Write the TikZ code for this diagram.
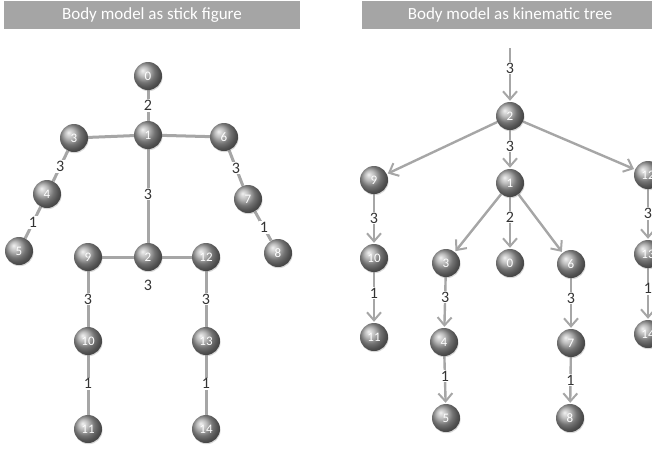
\documentclass[tikz,border=0pt]{standalone}
\usepackage{fontspec}
\setmainfont{Carlito}
\usetikzlibrary{arrows.meta,backgrounds,shadows}
\definecolor{edgegray}{HTML}{A6A6A6}
\definecolor{bargray}{HTML}{A5A5A5}
\definecolor{lblgray}{HTML}{333333}
\tikzset{
  joint/.style={circle,minimum size=28pt,inner sep=0pt,shading=ball,ball color=black!36,
    text=white,font=\fontsize{13}{13}\selectfont,
    drop shadow={shadow xshift=0.6pt,shadow yshift=-1.2pt,opacity=0.3}},
  bone/.style={draw=edgegray,line width=3pt},
  link/.style={draw=edgegray,line width=2.4pt,-{Straight Barb[length=8pt,width=14pt,line width=2pt]},shorten >=1pt},
  lbl/.style={fill=white,inner sep=1pt,text=lblgray,font=\fontsize{16}{16}\selectfont},
  titletext/.style={text=white,font=\fontsize{17}{17}\selectfont}
}
\begin{document}
\begin{tikzpicture}[x=1pt,y=-1pt]
\useasboundingbox (0,0) rectangle (652,448);
% title bars
\fill[bargray] (4,1) rectangle (300,29);
\node[titletext] (t1) at (152,15) {Body model as stick figure};
\fill[bargray] (362,1) rectangle (652,29);
\node[titletext] (t2) at (510,15) {Body model as kinematic tree};

% ---------- left: stick figure ----------
\node[joint] (L0) at (148,76) {0};
\node[joint] (L1) at (148,135) {1};
\node[joint] (L3) at (74,138) {3};
\node[joint] (L6) at (224,137) {6};
\node[joint] (L4) at (47,194) {4};
\node[joint] (L5) at (19,251) {5};
\node[joint] (L7) at (248,199) {7};
\node[joint] (L8) at (278,253) {8};
\node[joint] (L9) at (88,257) {9};
\node[joint] (L2) at (148,257) {2};
\node[joint] (L12) at (206,257) {12};
\node[joint] (L10) at (88,341) {10};
\node[joint] (L13) at (206,341) {13};
\node[joint] (L11) at (88,429) {11};
\node[joint] (L14) at (206,429) {14};
\node[lbl] (L2r) at (148,285) {3};

\begin{scope}[on background layer]
\draw[bone] (L0) -- node[lbl,pos=0.5] {2} (L1);
\draw[bone] (L1) -- (L3);
\draw[bone] (L1) -- (L6);
\draw[bone] (L3) -- node[lbl,pos=0.52] {3} (L4);
\draw[bone] (L4) -- node[lbl,pos=0.5] {1} (L5);
\draw[bone] (L6) -- node[lbl,pos=0.5] {3} (L7);
\draw[bone] (L7) -- node[lbl,pos=0.55] {1} (L8);
\draw[bone] (L1) -- node[lbl,pos=0.48] {3} (L2);
\draw[bone] (L2) -- (L9);
\draw[bone] (L2) -- (L12);
\draw[bone] (L9) -- node[lbl,pos=0.5] {3} (L10);
\draw[bone] (L12) -- node[lbl,pos=0.5] {3} (L13);
\draw[bone] (L10) -- node[lbl,pos=0.48] {1} (L11);
\draw[bone] (L13) -- node[lbl,pos=0.48] {1} (L14);
\end{scope}

% ---------- right: kinematic tree ----------
\coordinate (Rtop) at (510,48);
\node[joint] (R2) at (510,116) {2};
\node[joint] (R9) at (374,180) {9};
\node[joint] (R1) at (510,183) {1};
\node[joint] (R12) at (648,175) {12};
\node[joint] (R10) at (374,258) {10};
\node[joint] (R11) at (374,337) {11};
\node[joint] (R3) at (446,263) {3};
\node[joint] (R0) at (510,263) {0};
\node[joint] (R6) at (571,264) {6};
\node[joint] (R4) at (444,342) {4};
\node[joint] (R5) at (446,418) {5};
\node[joint] (R7) at (571,343) {7};
\node[joint] (R8) at (570,418) {8};
\node[joint] (R13) at (648,254) {13};
\node[joint] (R14) at (648,334) {14};

\begin{scope}[on background layer]
\draw[link] (Rtop) -- node[lbl,pos=0.37] {3} (R2);
\draw[link] (R2) -- node[lbl,pos=0.41] {3} (R1);
\draw[link] (R2) -- (R9);
\draw[link] (R2) -- (R12);
\draw[link] (R9) -- node[lbl,pos=0.48] {3} (R10);
\draw[link] (R10) -- node[lbl,pos=0.41] {1} (R11);
\draw[link] (R1) -- (R3);
\draw[link] (R1) -- node[lbl,pos=0.38] {2} (R0);
\draw[link] (R1) -- (R6);
\draw[link] (R3) -- node[lbl,pos=0.39] {3} (R4);
\draw[link] (R4) -- node[lbl,pos=0.42] {1} (R5);
\draw[link] (R6) -- node[lbl,pos=0.39] {3} (R7);
\draw[link] (R7) -- node[lbl,pos=0.49] {1} (R8);
\draw[link] (R12) -- node[lbl,pos=0.48] {3} (R13);
\draw[link] (R13) -- node[lbl,pos=0.4] {1} (R14);
\end{scope}
\end{tikzpicture}
\end{document}
